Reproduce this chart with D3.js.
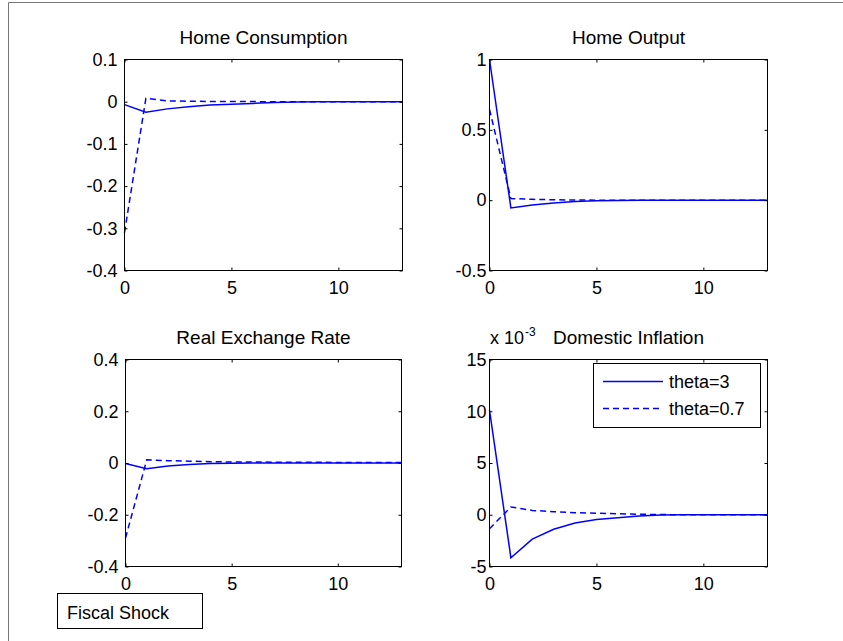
<!DOCTYPE html>
<html>
<head>
<meta charset="utf-8">
<script src="https://cdn.jsdelivr.net/npm/d3@7"></script>
<style>
  body { margin: 0; background: #fff; }
  text { font-family: "Liberation Sans", Arial, sans-serif; fill: #000; }
</style>
</head>
<body>
<div id="chart"></div>
<script>
// periods after the shock
const periods = [0, 1, 2, 3, 4, 5, 6, 7, 8, 9, 10, 11, 12, 13]

// theta=3 (solid) and theta=0.7 (dashed)
const consumptionHigh = [-0.007, -0.025, -0.017, -0.012, -0.008, -0.006, -0.004, -0.002, -0.001, 0, 0, 0, 0, 0]
const consumptionLow = [-0.31, 0.008, 0.002, 0.001, 0.0006, 0.0004, 0.0002, 0.0001, 0, 0, 0, 0, 0, 0]

const outputHigh = [1.0, -0.055, -0.035, -0.02, -0.01, -0.004, -0.002, -0.001, 0, 0, 0, 0, 0, 0]
const outputLow = [0.645, 0.012, 0.006, 0.003, 0.001, 0, 0, 0, 0, 0, 0, 0, 0, 0]

const rerHigh = [-0.002, -0.022, -0.012, -0.006, -0.002, -0.001, 0, 0, 0, 0, 0, 0, 0, 0]
const rerLow = [-0.29, 0.012, 0.009, 0.007, 0.005, 0.004, 0.004, 0.003, 0.003, 0.003, 0.002, 0.002, 0.002, 0.002]

// in units of 1e-3
const inflationHigh = [10.1, -4.15, -2.35, -1.4, -0.8, -0.45, -0.3, -0.12, -0.03, 0, 0, 0, 0, 0]
const inflationLow = [-1.35, 0.75, 0.42, 0.3, 0.2, 0.15, 0.1, 0.05, 0.02, 0, 0, 0, 0, 0]

const titles = ['Home Consumption', 'Home Output', 'Real Exchange Rate', 'Domestic Inflation']
const xTicks = [0, 5, 10]
const yTicksList = [
  [-0.4, -0.3, -0.2, -0.1, 0, 0.1],
  [-0.5, 0, 0.5, 1],
  [-0.4, -0.2, 0, 0.2, 0.4],
  [-5, 0, 5, 10, 15]
]
const legendLabels = ['theta=3', 'theta=0.7']
const noteLabel = 'Fiscal Shock'

// Our canvas
const width = 843,
  height = 641,
  blue = '#0000ff',
  lineWidth = 1.5

let svg = d3.select('#chart')
  .append('svg')
  .attr('width', width)
  .attr('height', height)

// figure frame (only top and left edges show)
svg.append('path')
  .attr('d', `M8.5,${height} V2.5 H${width}`)
  .attr('fill', 'none')
  .attr('stroke', '#777')
  .attr('stroke-width', 1)

// axes boxes
const panels = [
  { x0: 124.5, x1: 402.5, y0: 59.5, y1: 270.5, pad: 7, yDomain: [-0.4, 0.1], high: consumptionHigh, low: consumptionLow },
  { x0: 489.5, x1: 767.5, y0: 59.5, y1: 270.5, pad: 3, yDomain: [-0.5, 1], high: outputHigh, low: outputLow },
  { x0: 125.5, x1: 401.5, y0: 359.5, y1: 566.5, pad: 7, yDomain: [-0.4, 0.4], high: rerHigh, low: rerLow },
  { x0: 489.5, x1: 767.5, y0: 359.5, y1: 566.5, pad: 3, yDomain: [-5, 15], high: inflationHigh, low: inflationLow }
]

const fmt = d => String(+d.toFixed(3))

panels.forEach((p, k) => {
  const x = d3.scaleLinear().domain([0, 13]).range([p.x0, p.x1])
  const y = d3.scaleLinear().domain(p.yDomain).range([p.y1, p.y0])
  const g = svg.append('g')

  g.append('rect')
    .attr('x', p.x0).attr('y', p.y0)
    .attr('width', p.x1 - p.x0).attr('height', p.y1 - p.y0)
    .attr('fill', '#fff')

  const line = d3.line()
    .x((d, i) => x(periods[i]))
    .y(d => y(d))

  g.append('path')
    .datum(p.low)
    .attr('d', line)
    .attr('fill', 'none')
    .attr('stroke', blue)
    .attr('stroke-width', lineWidth)
    .attr('stroke-dasharray', '6,4')

  g.append('path')
    .datum(p.high)
    .attr('d', line)
    .attr('fill', 'none')
    .attr('stroke', blue)
    .attr('stroke-width', lineWidth)

  // inward ticks on all four sides
  g.append('g')
    .attr('transform', `translate(0,${p.y1})`)
    .call(d3.axisBottom(x).tickValues(xTicks).tickSize(-3).tickPadding(11).tickFormat(fmt))
  g.append('g')
    .attr('transform', `translate(0,${p.y0})`)
    .call(d3.axisTop(x).tickValues(xTicks).tickSize(-3).tickFormat(''))
  g.append('g')
    .attr('transform', `translate(${p.x0},0)`)
    .call(d3.axisLeft(y).tickValues(yTicksList[k]).tickSize(-3).tickPadding(p.pad).tickFormat(fmt))
  g.append('g')
    .attr('transform', `translate(${p.x1},0)`)
    .call(d3.axisRight(y).tickValues(yTicksList[k]).tickSize(-3).tickFormat(''))

  g.selectAll('.domain').remove()
  g.selectAll('.tick line').attr('stroke', '#000')
  g.selectAll('.tick text')
    .style('font-family', '"Liberation Sans", Arial, sans-serif')
    .style('font-size', '18px')
    .attr('fill', '#000')

  g.append('rect')
    .attr('x', p.x0).attr('y', p.y0)
    .attr('width', p.x1 - p.x0).attr('height', p.y1 - p.y0)
    .attr('fill', 'none')
    .attr('stroke', '#000')

  g.append('text')
    .attr('x', (p.x0 + p.x1) / 2)
    .attr('y', p.y0 - 16)
    .attr('text-anchor', 'middle')
    .style('font-size', '19px')
    .text(titles[k])
})

// exponent label on the inflation panel
let expo = svg.append('text')
  .attr('x', 490)
  .attr('y', 344)
  .style('font-size', '18px')
expo.append('tspan').text('x 10')
expo.append('tspan')
  .attr('dy', -8)
  .attr('dx', 1)
  .style('font-size', '12px')
  .text('-3')

// legend
const lg = svg.append('g')
lg.append('rect')
  .attr('x', 593.5).attr('y', 363.5)
  .attr('width', 167).attr('height', 64)
  .attr('fill', '#fff')
  .attr('stroke', '#000')

legendLabels.forEach((lab, i) => {
  const ly = 381.5 + i * 27
  const l = lg.append('line')
    .attr('x1', 603).attr('x2', 663)
    .attr('y1', ly).attr('y2', ly)
    .attr('stroke', blue)
    .attr('stroke-width', lineWidth)
  if (i === 1) l.attr('stroke-dasharray', '6,4')
  lg.append('text')
    .attr('x', 669)
    .attr('y', ly + 6.5)
    .style('font-size', '18px')
    .text(lab)
})

// annotation box
svg.append('rect')
  .attr('x', 57.5).attr('y', 593.5)
  .attr('width', 145).attr('height', 35)
  .attr('fill', '#fff')
  .attr('stroke', '#000')
svg.append('text')
  .attr('x', 67)
  .attr('y', 619)
  .style('font-size', '18px')
  .text(noteLabel)
</script>
</body>
</html>
